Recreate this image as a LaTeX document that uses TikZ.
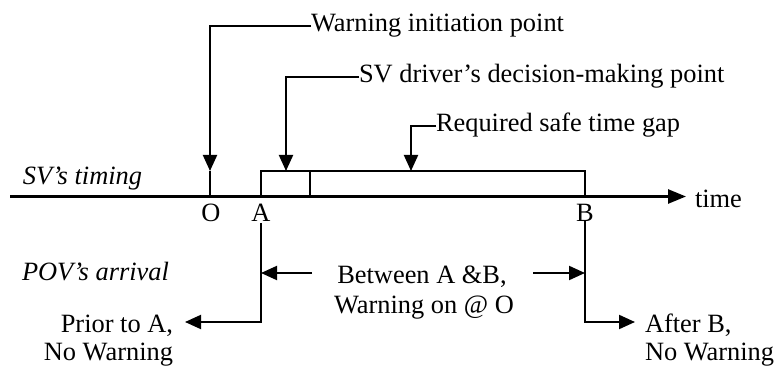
\documentclass[tikz,border=0pt]{standalone}
\usepackage{fontspec}
\setmainfont{Liberation Serif}
\usetikzlibrary{arrows.meta}
\begin{document}
\begin{tikzpicture}[x=1pt,y=-1pt,
  txt/.style={inner sep=0pt,outer sep=0pt,font=\fontsize{26.4}{31}\selectfont},
  itxt/.style={txt,font=\fontsize{26.4}{31}\selectfont\itshape},
  conn/.style={line width=2pt,-{Triangle[length=16pt,width=14pt]}},
  thin/.style={line width=1.4pt},
  axis/.style={line width=2.6pt,-{Triangle[length=18pt,width=14pt]}}]
\useasboundingbox (0,0) rectangle (779,366);
% coordinates
\coordinate (tl0) at (10,196.5);
\coordinate (tl1) at (686,196.5);
\coordinate (Otop) at (210,171);
\coordinate (Obot) at (210,196.5);
\coordinate (boxA) at (261,171);
\coordinate (boxB) at (585,196.5);
\coordinate (divT) at (310,171);
\coordinate (divB) at (310,196.5);
\coordinate (svtip) at (286,171);
\coordinate (rqtip) at (411,171);
\coordinate (Atop) at (261,223);
\coordinate (Abend) at (261,322);
\coordinate (Aleft) at (185,322);
\coordinate (Amid) at (261,273);
\coordinate (Btop) at (585,221);
\coordinate (Bbend) at (585,322);
\coordinate (Bright) at (635,322);
\coordinate (Bmid) at (585,273);
\coordinate (btwL) at (312,273);
\coordinate (btwR) at (533,273);
% texts
\node[txt,anchor=base west] (warn) at (311,31.5) {Warning initiation point};
\node[txt,anchor=base west] (sv) at (359,83) {SV driver’s decision-making point};
\node[txt,anchor=base west] (req) at (436,132) {Required safe time gap};
\node[itxt,anchor=base west] (svt) at (23,185) {SV’s timing};
\node[itxt,anchor=base west] (pov) at (22,280) {POV’s arrival};
\node[txt,anchor=base] (O) at (211,222) {O};
\node[txt,anchor=base] (A) at (261,222) {A};
\node[txt,anchor=base] (B) at (585,222) {B};
\node[txt,anchor=base west] (time) at (695,208) {time};
\node[txt,anchor=base] (btw1) at (422,283) {Between A \&B,};
\node[txt,anchor=base] (btw2) at (424,313) {Warning on @ O};
\node[txt,anchor=base east] (pr1) at (173,332) {Prior to A,};
\node[txt,anchor=base east] (pr2) at (173,360) {No Warning};
\node[txt,anchor=base west] (af1) at (645,332) {After B,};
\node[txt,anchor=base west] (af2) at (645,360) {No Warning};
% timeline and box
\draw[axis] (tl0) -- (tl1);
\draw[thin] (boxA) rectangle (boxB);
\draw[thin] (divT) -- (divB);
\draw[thin] (Otop) -- (Obot);
% callouts
\draw[conn] (warn.west) -| (Otop);
\draw[conn] (sv.west) -| (svtip);
\draw[conn] (req.west) -| (rqtip);
% arrival cases
\draw[conn] (Atop) -- (Abend) -- (Aleft);
\draw[conn] (Btop) -- (Bbend) -- (Bright);
\draw[conn] (btwL) -- (Amid);
\draw[conn] (btwR) -- (Bmid);
\end{tikzpicture}
\end{document}
